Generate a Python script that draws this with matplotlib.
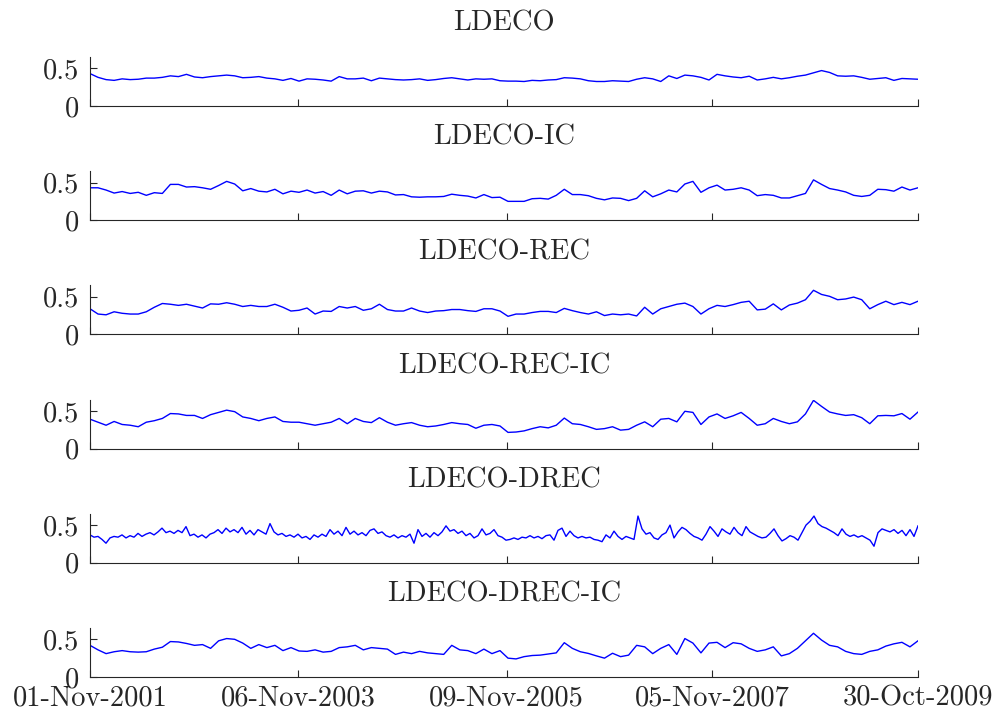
import numpy as np
import pandas as pd
import matplotlib
matplotlib.use('Agg')
import matplotlib.pyplot as plt

plt.rcParams['font.family'] = 'serif'
plt.rcParams['font.serif'] = ['cmr10']
plt.rcParams['axes.formatter.use_mathtext'] = True

start = '2001-11-01'
end = '2009-10-30'
tick_dates = ['2001-11-01', '2003-11-06', '2005-11-09', '2007-11-05', '2009-10-30']
tick_labels = ['01-Nov-2001', '06-Nov-2003', '09-Nov-2005', '05-Nov-2007', '30-Oct-2009']
titles = ['LDECO', 'LDECO-IC', 'LDECO-REC', 'LDECO-REC-IC', 'LDECO-DREC', 'LDECO-DREC-IC']

# values (roughly every 8 px, DREC every 4 px)
ldeco = [
    0.43, 0.38, 0.35, 0.34, 0.36, 0.35, 0.355, 0.37, 0.37, 0.38,
    0.40, 0.39, 0.42, 0.385, 0.375, 0.39, 0.40, 0.41, 0.40, 0.375,
    0.38, 0.39, 0.37, 0.36, 0.34, 0.365, 0.33, 0.36, 0.355, 0.345,
    0.33, 0.39, 0.36, 0.36, 0.37, 0.335, 0.37, 0.36, 0.35, 0.345,
    0.35, 0.36, 0.34, 0.35, 0.365, 0.375, 0.36, 0.345, 0.36, 0.355,
    0.36, 0.335, 0.33,
    0.33, 0.325, 0.34, 0.335, 0.345, 0.35, 0.375, 0.37, 0.36, 0.335,
    0.325, 0.325, 0.335, 0.33, 0.325, 0.355, 0.375, 0.36, 0.325, 0.40,
    0.365, 0.41, 0.40, 0.38, 0.345, 0.42, 0.40, 0.385, 0.375, 0.395,
    0.345, 0.36, 0.38, 0.36, 0.375, 0.395, 0.41, 0.44, 0.47, 0.445,
    0.40, 0.395, 0.40, 0.38, 0.355, 0.365, 0.375, 0.34, 0.365, 0.36,
    0.355]

ldeco_ic = [
    0.43, 0.43, 0.40, 0.36, 0.38, 0.355, 0.37, 0.33, 0.365, 0.355,
    0.475, 0.475, 0.44, 0.445, 0.43, 0.41, 0.46, 0.515, 0.48, 0.39,
    0.42, 0.385, 0.375, 0.41, 0.35, 0.385, 0.37, 0.40, 0.36, 0.38,
    0.33, 0.40, 0.35, 0.385, 0.39, 0.36, 0.385, 0.375, 0.335, 0.34,
    0.31, 0.305, 0.31, 0.31, 0.315, 0.345, 0.33, 0.32, 0.295, 0.34,
    0.30, 0.305, 0.25,
    0.25, 0.25, 0.285, 0.29, 0.28, 0.33, 0.41, 0.34, 0.34, 0.325,
    0.29, 0.27, 0.295, 0.29, 0.26, 0.29, 0.39, 0.31, 0.35, 0.40,
    0.375, 0.48, 0.515, 0.37, 0.43, 0.465, 0.40, 0.41, 0.43, 0.40,
    0.325, 0.34, 0.33, 0.295, 0.295, 0.325, 0.355, 0.535, 0.475, 0.42,
    0.40, 0.375, 0.33, 0.315, 0.33, 0.41, 0.405, 0.385, 0.44, 0.40,
    0.43]

ldeco_rec = [
    0.34, 0.27, 0.26, 0.30, 0.28, 0.27, 0.27, 0.30, 0.36, 0.41,
    0.40, 0.385, 0.40, 0.375, 0.35, 0.405, 0.40, 0.42, 0.40, 0.37,
    0.385, 0.37, 0.37, 0.40, 0.36, 0.31, 0.32, 0.35, 0.27, 0.31,
    0.305, 0.37, 0.35, 0.37, 0.32, 0.34, 0.40, 0.33, 0.31, 0.31,
    0.35, 0.31, 0.29, 0.31, 0.315, 0.33, 0.33, 0.315, 0.305, 0.34,
    0.34, 0.31, 0.24,
    0.27, 0.27, 0.29, 0.305, 0.305, 0.29, 0.345, 0.315, 0.29, 0.27,
    0.30, 0.25, 0.27, 0.26, 0.27, 0.245, 0.36, 0.27, 0.34, 0.37,
    0.40, 0.415, 0.37, 0.27, 0.34, 0.385, 0.37, 0.395, 0.425, 0.44,
    0.325, 0.335, 0.405, 0.325, 0.39, 0.415, 0.46, 0.585, 0.53, 0.505,
    0.46, 0.47, 0.495, 0.46, 0.34, 0.395, 0.44, 0.395, 0.425, 0.395,
    0.44]

ldeco_rec_ic = [
    0.39, 0.35, 0.31, 0.36, 0.32, 0.31, 0.29, 0.35, 0.37, 0.40,
    0.465, 0.46, 0.44, 0.44, 0.40, 0.45, 0.48, 0.51, 0.49, 0.42,
    0.40, 0.37, 0.40, 0.42, 0.36, 0.35, 0.35, 0.33, 0.31, 0.33,
    0.35, 0.40, 0.33, 0.40, 0.36, 0.345, 0.41, 0.35, 0.31, 0.33,
    0.345, 0.31, 0.29, 0.30, 0.32, 0.345, 0.33, 0.32, 0.27, 0.31,
    0.32, 0.30, 0.215,
    0.22, 0.235, 0.265, 0.29, 0.275, 0.31, 0.405, 0.33, 0.32, 0.29,
    0.255, 0.265, 0.29, 0.245, 0.255, 0.31, 0.355, 0.29, 0.39, 0.40,
    0.355, 0.495, 0.48, 0.32, 0.42, 0.46, 0.40, 0.435, 0.48, 0.40,
    0.31, 0.33, 0.40, 0.36, 0.33, 0.355, 0.46, 0.64, 0.56, 0.485,
    0.46, 0.44, 0.45, 0.41, 0.33, 0.435, 0.44, 0.435, 0.465, 0.39,
    0.485]

ldeco_drec = [
    0.37, 0.34, 0.35, 0.31, 0.26, 0.33, 0.35, 0.34, 0.37, 0.33,
    0.36, 0.34, 0.39, 0.35, 0.38, 0.40, 0.37, 0.41, 0.46, 0.40,
    0.42, 0.39, 0.43, 0.40, 0.48, 0.36, 0.38, 0.34, 0.37, 0.33,
    0.38, 0.40, 0.44, 0.39, 0.46, 0.41, 0.44, 0.40, 0.47, 0.38,
    0.43, 0.37, 0.44, 0.41, 0.38, 0.52, 0.41, 0.37, 0.39, 0.35,
    0.37, 0.34, 0.38, 0.33, 0.35, 0.31, 0.37, 0.34, 0.38, 0.35,
    0.44, 0.38, 0.42, 0.36, 0.47, 0.38, 0.42, 0.37, 0.40, 0.36,
    0.43, 0.45, 0.39, 0.41, 0.36, 0.34, 0.37, 0.33, 0.36, 0.34,
    0.38, 0.26, 0.44, 0.35, 0.39, 0.34, 0.40, 0.36, 0.41, 0.49,
    0.42, 0.44, 0.39, 0.42, 0.36, 0.39, 0.33, 0.36, 0.45, 0.37,
    0.39, 0.44, 0.36, 0.34, 0.30, 0.31,
    0.33, 0.31, 0.34, 0.33, 0.36, 0.33, 0.35, 0.32, 0.36, 0.37,
    0.30, 0.43, 0.46, 0.35, 0.42, 0.36, 0.33, 0.35, 0.33, 0.34,
    0.31, 0.30, 0.28, 0.37, 0.33, 0.42, 0.35, 0.31, 0.35, 0.33,
    0.31, 0.62, 0.45, 0.38, 0.40, 0.33, 0.31, 0.37, 0.40, 0.50,
    0.33, 0.41, 0.47, 0.44, 0.39, 0.35, 0.33, 0.30, 0.38, 0.48,
    0.42, 0.35, 0.45, 0.41, 0.38, 0.47, 0.40, 0.36, 0.48, 0.41,
    0.38, 0.35, 0.33, 0.34, 0.39, 0.45, 0.36, 0.29, 0.32, 0.36,
    0.34, 0.30, 0.40, 0.50, 0.55, 0.62, 0.52, 0.48, 0.46, 0.43,
    0.40, 0.36, 0.45, 0.38, 0.35, 0.37, 0.34, 0.36, 0.33, 0.30,
    0.22, 0.40, 0.45, 0.43, 0.41, 0.44, 0.39, 0.43, 0.36, 0.44,
    0.35, 0.49]

ldeco_drec_ic = [
    0.42, 0.36, 0.31, 0.335, 0.35, 0.335, 0.33, 0.335, 0.37, 0.395,
    0.47, 0.465, 0.445, 0.42, 0.43, 0.38, 0.48, 0.51, 0.50, 0.45,
    0.38, 0.43, 0.39, 0.42, 0.35, 0.39, 0.345, 0.34, 0.36, 0.33,
    0.34, 0.39, 0.40, 0.42, 0.36, 0.39, 0.38, 0.37, 0.30, 0.33,
    0.31, 0.34, 0.32, 0.31, 0.30, 0.42, 0.36, 0.35, 0.31, 0.37,
    0.31, 0.35, 0.25,
    0.24, 0.27, 0.285, 0.29, 0.305, 0.32, 0.455, 0.38, 0.335, 0.3125,
    0.28, 0.25, 0.315, 0.27, 0.29, 0.42, 0.40, 0.31, 0.38, 0.43,
    0.30, 0.51, 0.45, 0.32, 0.45, 0.46, 0.39, 0.455, 0.44, 0.38,
    0.34, 0.36, 0.40, 0.28, 0.31, 0.38, 0.48, 0.58, 0.49, 0.42,
    0.40, 0.34, 0.31, 0.30, 0.34, 0.36, 0.41, 0.44, 0.46, 0.40,
    0.48]

series = [ldeco, ldeco_ic, ldeco_rec, ldeco_rec_ic, ldeco_drec, ldeco_drec_ic]

fig = plt.figure(figsize=(9.96, 7.15), dpi=100)
ink = '#262626'

for i, (title, vals) in enumerate(zip(titles, series)):
    bottom_px = 106 + 114.2 * i
    ax = fig.add_axes([90 / 996, 1 - bottom_px / 715, 828 / 996, 49 / 715])
    x = pd.date_range(start, end, periods=len(vals))
    ax.plot(x, vals, color='blue', lw=1.0)

    ax.set_xlim(pd.Timestamp(start), pd.Timestamp(end))
    ax.set_ylim(0, 0.65)
    ax.set_yticks([0, 0.5])
    ax.set_yticklabels(['0', '0.5'])
    ax.set_xticks(pd.to_datetime(tick_dates))
    ax.set_xticklabels(tick_labels if i == len(series) - 1 else [])

    ax.spines['top'].set_visible(False)
    ax.spines['right'].set_visible(False)
    for s in ['left', 'bottom']:
        ax.spines[s].set_color(ink)
        ax.spines[s].set_linewidth(0.8)
    ax.tick_params(direction='in', length=5, width=0.8, colors=ink, labelsize=20.5)
    ax.tick_params(axis='y', pad=8)
    ax.tick_params(axis='x', pad=6)
    ax.set_title(title, fontsize=20.5, pad=19, color=ink)

fig.savefig('out.png', dpi=100)
